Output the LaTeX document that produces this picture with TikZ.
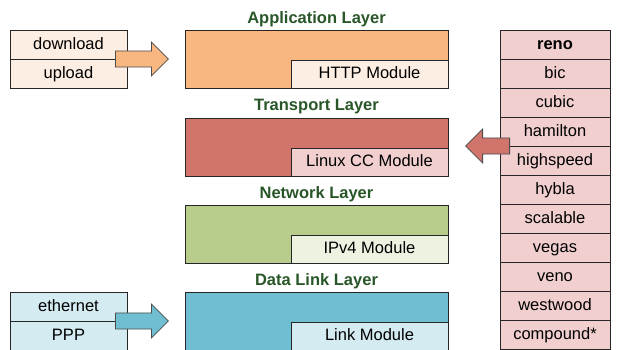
\documentclass[tikz,border=0pt]{standalone}
\usepackage{fontspec}
\setmainfont{Liberation Sans}
\usetikzlibrary{shapes.arrows,positioning,calc}
\begin{document}
\begin{tikzpicture}[x=1pt, y=-1pt, font=\fontsize{16.5}{19}\selectfont]

  % Define Colors
  \definecolor{appfill}{HTML}{F8B680}
  \definecolor{applight}{HTML}{FDEEE3}
  \definecolor{trafill}{HTML}{D0746C}
  \definecolor{tralight}{HTML}{F0CFCE}
  \definecolor{netfill}{HTML}{B8CC8B}
  \definecolor{netlight}{HTML}{EDF2E1}
  \definecolor{linkfill}{HTML}{70BED2}
  \definecolor{linklight}{HTML}{D4EBF1}
  \definecolor{titlegreen}{HTML}{285628}

  % Node styles
  \tikzstyle{layer}=[rectangle, draw=black!85, line width=0.8pt, minimum width=263pt, minimum height=58pt, inner sep=0, outer sep=0, anchor=north west]
  \tikzstyle{module}=[rectangle, draw=black!85, line width=0.8pt, minimum width=157pt, minimum height=28pt, inner sep=0, outer sep=0, anchor=south east, text height=12pt, text depth=2.4pt]
  \tikzstyle{title}=[font=\fontsize{16.5}{19}\selectfont\bfseries, text=titlegreen, anchor=base]
  \tikzstyle{cell}=[rectangle, draw=black!85, line width=0.8pt, minimum width=117pt, minimum height=29pt, inner sep=0, outer sep=0, text height=12pt, text depth=2.4pt]
  \tikzstyle{ccitem}=[cell, fill=tralight, minimum width=110pt]
  \tikzstyle{fatarrow}=[single arrow, draw=black!70, line width=0.8pt, inner xsep=0, inner ysep=6pt, minimum width=34pt, anchor=tail]

  \useasboundingbox (0,0) rectangle (618,350);

  % Layers
  \node[title] (t_app) at (316.5,24) {Application Layer};
  \node[layer, fill=appfill] (l_app) at (185,30) {};
  \node[module, fill=applight] (m_app) at (l_app.south east) {HTTP Module};

  \node[title] (t_tra) at (316.5,111) {Transport Layer};
  \node[layer, fill=trafill] (l_tra) at (185,118) {};
  \node[module, fill=tralight] (m_tra) at (l_tra.south east) {Linux CC Module};

  \node[title] (t_net) at (316.5,198) {Network Layer};
  \node[layer, fill=netfill] (l_net) at (185,205) {};
  \node[module, fill=netlight] (m_net) at (l_net.south east) {IPv4 Module};

  \node[title] (t_link) at (316.5,285) {Data Link Layer};
  \node[layer, fill=linkfill] (l_link) at (185,292) {};
  \node[module, fill=linklight] (m_link) at (l_link.south east) {Link Module};

  % Applications
  \node[cell, fill=applight] (dl) at (68.5,44.5) {download};
  \node[cell, fill=applight, below=0pt of dl] (ul) {upload};

  % Link protocols
  \node[cell, fill=linklight] (eth) at (68.5,306.5) {ethernet};
  \node[cell, fill=linklight, below=0pt of eth] (ppp) {PPP};

  % Congestion control
  \node[ccitem, font=\fontsize{16.5}{19}\selectfont\bfseries] (cc1) at (555,44.5) {reno};
  \foreach \name [count=\i from 2] in {bic, cubic, hamilton, highspeed, hybla, scalable, vegas, veno, westwood, compound*} {
    \node[ccitem] (cc\i) at (555,{44.5+29*(\i-1)}) {\name};
  }

  % Arrows
  \node[fatarrow, fill=appfill, minimum height=53pt] (a_app) at ($(dl.south east)+(-12,0)$) {};
  \node[fatarrow, fill=trafill, minimum height=44pt, shape border rotate=180] (a_tra) at ($(cc4.south west)+(10,0)$) {};
  \node[fatarrow, fill=linkfill, minimum height=53pt] (a_link) at ($(eth.south east)+(-12,0)$) {};

\end{tikzpicture}
\end{document}
